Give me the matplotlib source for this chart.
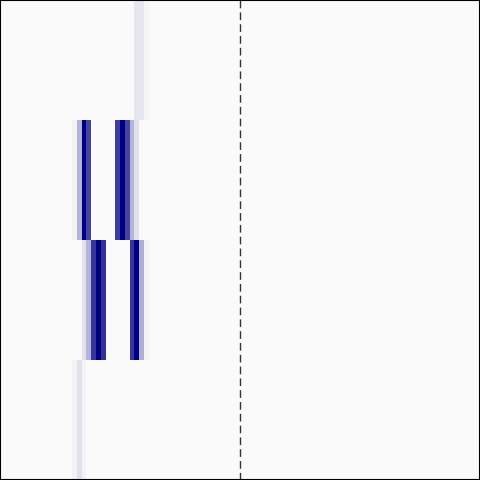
import numpy as np
import matplotlib
matplotlib.use("Agg")
import matplotlib.pyplot as plt
from matplotlib.colors import LinearSegmentedColormap

n_cols = 100
rows = ["r0", "r1", "r2", "r3"]

# non-zero cells per row: {column index: intensity}
row0_cells = {28: 0.08, 29: 0.08, 30: 0.02}
row1_cells = {15: 0.03, 16: 0.28, 17: 1.0, 18: 0.72,
              24: 0.75, 25: 1.0, 26: 0.72, 27: 0.28, 28: 0.1}
row2_cells = {17: 0.1, 18: 0.28, 19: 0.78, 20: 1.0, 21: 0.8,
              27: 0.78, 28: 1.0, 29: 0.3, 30: 0.03}
row3_cells = {15: 0.03, 16: 0.1, 17: 0.03}
threshold_x = 50

data = np.zeros((len(rows), n_cols))
for i, cells in enumerate([row0_cells, row1_cells, row2_cells, row3_cells]):
    for c, v in cells.items():
        data[i, c] = v

cmap = LinearSegmentedColormap.from_list("wn", ["#fafafa", "#000080"])

fig = plt.figure(figsize=(4.8, 4.8), dpi=100, facecolor="#fafafa")
ax = fig.add_axes([0, 0, 1, 1])
ax.imshow(data, cmap=cmap, vmin=0, vmax=1, aspect="auto",
          interpolation="nearest", extent=[0, n_cols, len(rows), 0])
ax.axvline(threshold_x, color="#333333", linewidth=1.0, linestyle=(0, (5.5, 3)))
ax.set_xticks([])
ax.set_yticks([])
for s in ax.spines.values():
    s.set_color("black")
    s.set_linewidth(1.5)
fig.savefig("out.png", dpi=100, facecolor="#fafafa")
